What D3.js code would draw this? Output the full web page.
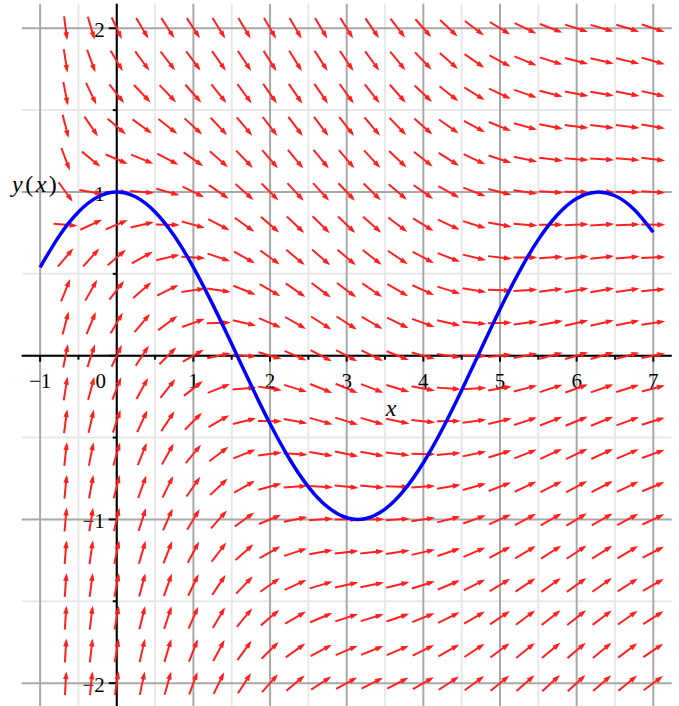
<!DOCTYPE html>
<html>
<head>
<meta charset="utf-8">
<script src="https://cdn.jsdelivr.net/npm/d3@7"></script>
<style>
  html, body { margin: 0; padding: 0; background: #fff; }
  svg { display: block; }
  .tick-label { font-family: "Liberation Serif", "DejaVu Serif", serif; font-size: 21px; fill: #000; }
  .axis-title { font-family: "Liberation Serif", "DejaVu Serif", serif; font-size: 24px; fill: #000; }
</style>
</head>
<body>
<svg id="chart" width="679" height="706"></svg>
<script>
/* Direction field with the cos(x) curve drawn over it. */
(function () {
  "use strict";

  // arrow grid (the x = -1 column has no arrows)
  const arrowXs = [-0.667, -0.333, 0, 0.333, 0.667, 1, 1.333, 1.667, 2, 2.333, 2.667, 3,
    3.333, 3.667, 4, 4.333, 4.667, 5, 5.333, 5.667, 6, 6.333, 6.667, 7];
  const arrowYs = [2, 1.8, 1.6, 1.4, 1.2, 1, 0.8, 0.6, 0.4, 0.2, 0,
    -0.2, -0.4, -0.6, -0.8, -1, -1.2, -1.4, -1.6, -1.8, -2];
  // per column: level where arrows run flat, and how fast slope grows away from it
  const flatLevel = [0.786, 0.945, 1, 0.945, 0.786, 0.540, 0.235, -0.096, -0.416, -0.691, -0.889, -0.990,
    -0.982, -0.865, -0.654, -0.370, -0.046, 0.284, 0.582, 0.816, 0.960, 0.999, 0.927, 0.754];
  const slopeRate = [3, 1.5, 1, 0.75, 0.6, 0.5, 0.429, 0.375, 0.333, 0.3, 0.273, 0.25,
    0.231, 0.214, 0.2, 0.188, 0.176, 0.167, 0.158, 0.15, 0.143, 0.136, 0.130, 0.125];

  // blue curve
  const curveX = [-1, -0.75, -0.5, -0.25, 0, 0.25, 0.5, 0.75, 1, 1.25, 1.5, 1.75, 2, 2.25, 2.5, 2.75,
    3, 3.25, 3.5, 3.75, 4, 4.25, 4.5, 4.75, 5, 5.25, 5.5, 5.75, 6, 6.25, 6.5, 6.75, 7];
  const curveY = [0.540, 0.732, 0.878, 0.969, 1, 0.969, 0.878, 0.732, 0.540, 0.315, 0.071, -0.178,
    -0.416, -0.628, -0.801, -0.924, -0.990, -0.994, -0.937, -0.821, -0.654, -0.446, -0.211, 0.038,
    0.284, 0.512, 0.709, 0.861, 0.960, 0.999, 0.977, 0.893, 0.754];

  // ticks and labels
  const xMajor = [-1, 0, 1, 2, 3, 4, 5, 6, 7];
  const xMinor = [-0.5, 0.5, 1.5, 2.5, 3.5, 4.5, 5.5, 6.5];
  const yMajor = [-2, -1, 0, 1, 2];
  const yMinor = [-1.5, -0.5, 0.5, 1.5];
  const xTickLabels = ["−1", "0", "1", "2", "3", "4", "5", "6", "7"];
  const yLabelVals = [-2, -1, 1, 2];
  const yTickLabels = ["−2", "−1", "1", "2"];

  const RED = "#ff2020", BLUE = "#0000ff", MAJOR = "#a8a8a8", MINOR = "#e8e8e8";
  const x = d3.scaleLinear().domain([-1.24, 7.24]).range([21.7, 671.7]);
  const y = d3.scaleLinear().domain([-2.15, 2.15]).range([707.7, 3.7]);

  const svg = d3.select("#chart");

  // grid
  const grid = svg.append("g");
  grid.selectAll(".vmin").data(xMinor).enter().append("line")
    .attr("x1", x).attr("x2", x).attr("y1", y(2.15)).attr("y2", y(-2.15))
    .attr("stroke", MINOR).attr("stroke-width", 2);
  grid.selectAll(".hmin").data(yMinor).enter().append("line")
    .attr("y1", y).attr("y2", y).attr("x1", x(-1.24)).attr("x2", x(7.24))
    .attr("stroke", MINOR).attr("stroke-width", 2);
  grid.selectAll(".vmaj").data(xMajor).enter().append("line")
    .attr("x1", x).attr("x2", x).attr("y1", y(2.15)).attr("y2", y(-2.15))
    .attr("stroke", MAJOR).attr("stroke-width", 2);
  grid.selectAll(".hmaj").data(yMajor).enter().append("line")
    .attr("y1", y).attr("y2", y).attr("x1", x(-1.24)).attr("x2", x(7.24))
    .attr("stroke", MAJOR).attr("stroke-width", 2);

  // axes
  const ax = svg.append("g").attr("stroke", "#000");
  ax.append("line").attr("x1", x(-1.24)).attr("x2", x(7.24)).attr("y1", y(0)).attr("y2", y(0)).attr("stroke-width", 2);
  ax.append("line").attr("x1", x(0)).attr("x2", x(0)).attr("y1", y(2.15)).attr("y2", y(-2.15)).attr("stroke-width", 2);
  ax.selectAll(".xt").data(xMajor).enter().append("line")
    .attr("x1", x).attr("x2", x).attr("y1", y(0)).attr("y2", y(0) + 6).attr("stroke-width", 2);
  ax.selectAll(".xtm").data(xMinor).enter().append("line")
    .attr("x1", x).attr("x2", x).attr("y1", y(0)).attr("y2", y(0) + 4).attr("stroke-width", 2);
  ax.selectAll(".yt").data(yMajor).enter().append("line")
    .attr("y1", y).attr("y2", y).attr("x1", x(0) - 8).attr("x2", x(0)).attr("stroke-width", 2);
  ax.selectAll(".ytm").data(yMinor).enter().append("line")
    .attr("y1", y).attr("y2", y).attr("x1", x(0) - 4).attr("x2", x(0)).attr("stroke-width", 2);

  // tick labels and titles (under the arrows)
  const lab = svg.append("g");
  lab.selectAll(".xl").data(xMajor).enter().append("text")
    .attr("class", "tick-label").attr("text-anchor", "middle")
    .attr("x", (d) => x(d) - (d === 0 ? 16 : 0)).attr("y", y(0) + 32)
    .text((d, i) => xTickLabels[i]);
  lab.selectAll(".yl").data(yLabelVals).enter().append("text")
    .attr("class", "tick-label").attr("text-anchor", "end")
    .attr("x", x(0) - 12).attr("y", (d) => y(d) + 9)
    .text((d, i) => yTickLabels[i]);

  const yt = lab.append("text").attr("class", "axis-title").attr("x", 12).attr("y", 192)
    .attr("letter-spacing", 2.5);
  yt.append("tspan").attr("font-style", "italic").text("y");
  yt.append("tspan").text("(");
  yt.append("tspan").attr("font-style", "italic").text("x");
  yt.append("tspan").text(")");
  lab.append("text").attr("class", "axis-title").attr("font-style", "italic")
    .attr("text-anchor", "middle").attr("x", 391).attr("y", 416).text("x");

  // direction field
  const L = 24, HL = 8, HW = 2.7;
  const field = svg.append("g");
  arrowXs.forEach((xv, i) => {
    arrowYs.forEach((yv) => {
      const s = slopeRate[i] * (flatLevel[i] - yv);
      const cx = x(xv), cy = y(yv);
      let dx = x(xv + 1) - cx, dy = y(yv + s) - cy;
      const n = Math.hypot(dx, dy);
      dx /= n; dy /= n;
      const x0 = cx - dx * L / 2, y0 = cy - dy * L / 2;
      const x1 = cx + dx * L / 2, y1 = cy + dy * L / 2;
      const bx = x1 - dx * HL, by = y1 - dy * HL;
      field.append("line").attr("x1", x0).attr("y1", y0)
        .attr("x2", x1 - dx * 3).attr("y2", y1 - dy * 3)
        .attr("stroke", RED).attr("stroke-width", 2);
      field.append("path")
        .attr("d", `M${x1},${y1}L${bx - dy * HW},${by + dx * HW}L${bx + dy * HW},${by - dx * HW}Z`)
        .attr("fill", RED);
    });
  });

  // curve
  const pts = curveX.map((v, i) => [v, curveY[i]]);
  svg.append("path").datum(pts)
    .attr("fill", "none").attr("stroke", BLUE).attr("stroke-width", 3.5)
    .attr("d", d3.line().x((d) => x(d[0])).y((d) => y(d[1])).curve(d3.curveNatural));
})();
</script>
</body>
</html>
